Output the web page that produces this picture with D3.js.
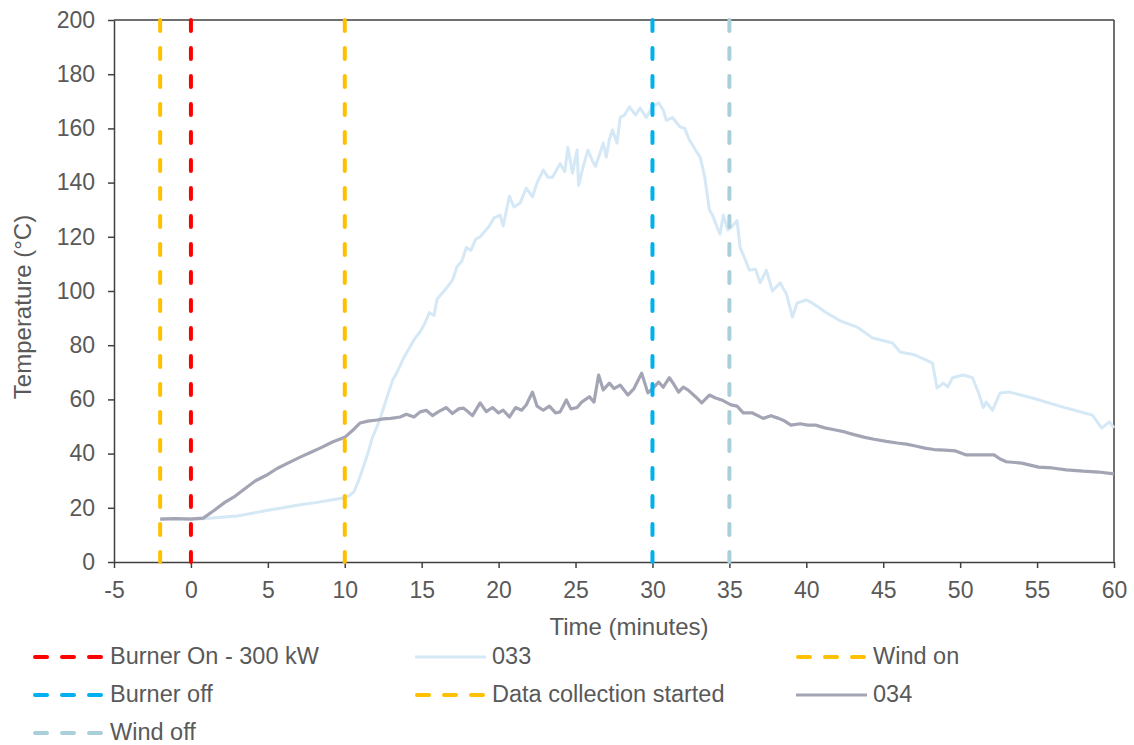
<!DOCTYPE html>
<html><head><meta charset="utf-8">
<script src="https://cdn.jsdelivr.net/npm/d3@7"></script>
<style>body{margin:0;background:#fff;} svg{display:block;font-family:"Liberation Sans",Arial,sans-serif;}</style>
</head><body>
<script>
// ---- data ----
const xTicks = [-5,0,5,10,15,20,25,30,35,40,45,50,55,60];
const yTicks = [0,20,40,60,80,100,120,140,160,180,200];
// series 033 [time (min), temperature (°C)]
const series033 = [[-2,16],[-1,16],[0,16],[0.8,16],[2,16.5],[3,17],[4,18],[4.9,19],[6,20],[7,21],[8.2,22],[9,22.8],[9.9,23.6],[10.3,24.5],[10.6,26],[10.9,30],[11.2,35],[11.5,40],[11.8,46],[12.1,50],[12.3,53],[12.7,60],[13.1,67],[13.4,70],[13.8,75],[14.2,79],[14.5,82],[14.9,85],[15.2,88],[15.5,92],[15.8,91],[16,97],[16.3,99],[16.6,101],[17,104],[17.3,109],[17.6,111],[17.9,116],[18.2,115],[18.5,119],[18.8,120],[19.1,122],[19.4,124],[19.7,127],[20.1,128],[20.3,124],[20.7,135],[21,131],[21.4,132.5],[21.8,138],[22.2,134.7],[22.5,140],[22.9,144.6],[23.2,142],[23.5,142],[23.8,145],[24,147],[24.3,144],[24.5,153],[24.8,143.5],[25.1,152],[25.2,139],[25.5,146],[25.8,152],[26.1,148],[26.3,146],[26.6,151],[26.8,154.6],[27,149.4],[27.2,156],[27.4,159.4],[27.7,154.6],[27.9,164],[28.2,165],[28.5,168],[28.9,165],[29.2,167.5],[29.6,164],[30,168],[30.4,169.4],[30.7,166.8],[30.9,163],[31.3,164],[31.8,160.5],[32.1,160],[32.4,155.7],[32.8,152],[33.1,149.4],[33.4,142],[33.7,130],[33.9,128],[34.2,123.6],[34.4,121],[34.6,128],[34.9,122.5],[35.2,124],[35.5,126],[35.7,116],[36,112],[36.3,107.7],[36.7,108],[37,103],[37.4,107.7],[37.8,100],[38.3,103],[38.7,99],[39.1,90.4],[39.4,95.5],[40,96.7],[40.4,95.5],[40.8,94],[41.3,92],[42.2,89],[43.3,86.7],[44.3,82.7],[45.6,80.8],[46.1,77.5],[47,76.5],[47.8,74.5],[48.2,73.4],[48.5,64.2],[48.9,66],[49.2,64.6],[49.5,68],[50.2,69],[50.8,68],[51.2,62.4],[51.5,57],[51.7,59],[52.1,56],[52.6,62.4],[53.2,62.7],[54.7,60.5],[56.9,56.8],[58.6,54.2],[59.2,49.4],[59.7,51.7],[60,49.5]];
// series 034
const series034 = [[-2,15.8],[-1,16],[0,15.8],[0.8,16.2],[1.5,19],[2.2,22],[2.8,24],[3.5,27],[4.2,30],[4.9,32],[5.6,34.5],[6.3,36.5],[7.1,38.7],[7.8,40.5],[8.5,42.3],[9.2,44.3],[10,46],[10.5,48.5],[11,51.3],[11.5,52],[12.1,52.4],[12.5,52.8],[13,53],[13.6,53.5],[14,54.5],[14.5,53.5],[14.9,55.4],[15.3,56],[15.7,54],[16.1,55.5],[16.6,57],[17,54.8],[17.4,56.5],[17.7,56.8],[18,55.5],[18.3,54],[18.8,58.7],[19.2,55.5],[19.6,57],[20,55],[20.3,56],[20.7,53.5],[21.1,57],[21.5,56],[21.8,58],[22.2,62.7],[22.5,57.5],[22.9,56],[23.3,57.5],[23.7,55],[24,55.4],[24.4,59.8],[24.7,56.5],[25.1,57],[25.4,59],[25.9,61],[26.2,59],[26.5,69],[26.8,63.5],[27.2,66],[27.5,64],[27.9,65.3],[28.4,61.6],[28.8,64],[29.3,69.7],[29.7,62.4],[30,64],[30.4,66.4],[30.7,64.5],[31.1,68],[31.4,65.5],[31.7,62.7],[32,64.5],[32.3,63.5],[32.8,61],[33.2,58.7],[33.7,61.6],[34.1,60.5],[34.5,59.8],[35.1,58],[35.5,57.5],[35.9,55],[36.5,55],[37.2,53],[37.7,54],[38.2,53],[38.6,52],[39,50.5],[39.6,51],[40.1,50.5],[40.6,50.5],[41.2,49.5],[41.9,48.7],[42.5,48],[43.1,47],[43.8,46],[44.4,45.3],[45.2,44.5],[45.9,43.9],[46.5,43.5],[47.1,42.8],[47.7,42],[48.3,41.5],[49,41.3],[49.7,41],[50.4,39.5],[51.2,39.5],[52.2,39.5],[52.6,38],[53,37],[54,36.5],[55.1,35],[56,34.7],[56.9,34],[58,33.5],[59,33.2],[60,32.5]];
// event markers
const eventNames = ["Data collection started","Burner On - 300 kW","Wind on","Burner off","Wind off"];
const eventTimes = [-2,0,10,30,35];
const eventColors = ["#FFC000","#FF0000","#FFC000","#00B0F0","#A9CFDB"];

// ---- layout ----
const W=1134,H=745, m={l:114,t:20,r:20,b:183};
const svg=d3.select("body").append("svg").attr("width",W).attr("height",H);
const x=d3.scaleLinear().domain([-5,60]).range([m.l,W-m.r]);
const y=d3.scaleLinear().domain([0,200]).range([H-m.b,m.t]);
const axisCol="#404040", textCol="#595959";
const FONT="Liberation Sans, Arial, sans-serif";

// frame top/right
svg.append("line").attr("x1",m.l).attr("x2",W-m.r).attr("y1",m.t).attr("y2",m.t).attr("stroke",axisCol).attr("stroke-width",1.5);
svg.append("line").attr("x1",W-m.r).attr("x2",W-m.r).attr("y1",m.t).attr("y2",H-m.b).attr("stroke",axisCol).attr("stroke-width",1.5);

const gx=svg.append("g").attr("transform",`translate(0,${H-m.b})`).call(d3.axisBottom(x).tickValues(xTicks).tickFormat(d=>String(d)).tickSize(6).tickSizeOuter(0).tickPadding(14));
const gy=svg.append("g").attr("transform",`translate(${m.l},0)`).call(d3.axisLeft(y).tickValues(yTicks).tickFormat(d=>String(d)).tickSize(6).tickSizeOuter(0).tickPadding(13));
[gx,gy].forEach(g=>{
  g.select(".domain").attr("stroke",axisCol).attr("stroke-width",1.5);
  g.selectAll(".tick line").attr("stroke",axisCol).attr("stroke-width",1.5);
  g.selectAll("text").attr("fill",textCol).style("font-size","23px").style("font-family",FONT);
});

// series
const line=d3.line().x(d=>x(d[0])).y(d=>y(d[1]));
svg.append("path").datum(series033).attr("d",line).attr("fill","none").attr("stroke","#D5E8F6").attr("stroke-width",3).attr("stroke-linejoin","round");
svg.append("path").datum(series034).attr("d",line).attr("fill","none").attr("stroke","#A3A5B5").attr("stroke-width",3.2).attr("stroke-linejoin","round");

// event lines
eventTimes.forEach((t,i)=>{
  svg.append("line").attr("x1",x(t)).attr("x2",x(t)).attr("y1",y(200)).attr("y2",y(0))
    .attr("stroke",eventColors[i]).attr("stroke-width",4).attr("stroke-dasharray","11,17").attr("stroke-linecap","round");
});

// axis titles
svg.append("text").attr("x",629).attr("y",635).attr("text-anchor","middle").attr("fill",textCol).style("font-size","24px").text("Time (minutes)");
svg.append("text").attr("transform","translate(31,307) rotate(-90)").attr("text-anchor","middle").attr("fill",textCol).style("font-size","24px").text("Temperature (°C)");

// legend
const legend=[
 {name:"Burner On - 300 kW",color:"#FF0000",dash:true,col:0,row:0},
 {name:"033",color:"#D5E8F6",dash:false,col:1,row:0},
 {name:"Wind on",color:"#FFC000",dash:true,col:2,row:0},
 {name:"Burner off",color:"#00B0F0",dash:true,col:0,row:1},
 {name:"Data collection started",color:"#FFC000",dash:true,col:1,row:1},
 {name:"034",color:"#A3A5B5",dash:false,col:2,row:1},
 {name:"Wind off",color:"#A9CFDB",dash:true,col:0,row:2}
];
const colX=[33,415,796], rowY=[657,695,733];
legend.forEach(d=>{
  const lx=colX[d.col], ly=rowY[d.row];
  const l=svg.append("line").attr("y1",ly).attr("y2",ly).attr("stroke",d.color);
  if(d.dash) l.attr("x1",lx+2).attr("x2",lx+68).attr("stroke-width",4).attr("stroke-dasharray","12,15").attr("stroke-linecap","round");
  else l.attr("x1",lx).attr("x2",lx+71).attr("stroke-width",3);
  svg.append("text").attr("x",lx+77).attr("y",ly+7).attr("fill",textCol).style("font-size","23.5px").text(d.name);
});
</script>
</body></html>
